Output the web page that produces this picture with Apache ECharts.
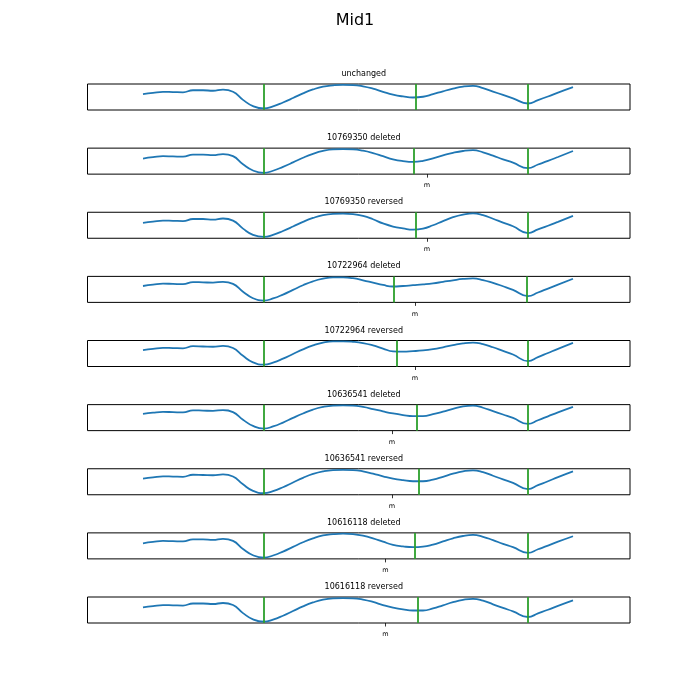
<!DOCTYPE html>
<html><head><meta charset="utf-8">
<script src="https://cdn.jsdelivr.net/npm/echarts@6/dist/echarts.min.js"></script>
<style>html,body{margin:0;padding:0;background:#fff}#c{width:700px;height:700px}</style>
</head><body><div id="c"></div>
<script>
const mainTitle = 'Mid1';
const panelTitles = ['unchanged','10769350 deleted','10769350 reversed','10722964 deleted','10722964 reversed','10636541 deleted','10636541 reversed','10616118 deleted','10616118 reversed'];
const position = [0,10,20,30,40,50,60,70,80,90,100,110,121,130,140,150,160,170,180,190,200,210,220,230,240,250,260,270,280,290,300,310,320,330,340,350,360,370,385,395,405,415,430];
const unchanged    = [61,66,70,69,68,76,76,74,78,70,39,15,6,14,29,46,64,79,90,95,97,96,91,82,70,59,52,48,51,61,72,82,90,93,84,71,58,45,25,38,52,67,88];
const del10769350  = [60,65,69,68,67,75,75,73,77,69,38,14,5,13,28,45,63,78,89,95,96,95,90,81,69,57,50,47,51,61,72,82,89,92,84,71,57,44,23,37,51,66,89];
const rev10769350  = [59,64,68,67,66,74,74,72,76,68,37,13,5,13,28,45,63,78,89,94,95,93,86,73,57,45,38,33,37,50,66,81,91,96,89,75,60,46,20,34,48,63,86];
const del10722964  = [63,68,72,71,70,78,77,76,79,71,41,16,7,15,30,48,66,81,91,96,96,93,85,76,67,61,63,66,69,73,79,85,90,92,86,75,62,48,24,38,53,68,91];
const rev10722964  = [63,68,72,71,70,78,77,76,79,71,41,16,7,15,30,48,66,81,92,97,97,95,90,81,69,58,57,59,62,67,74,82,89,92,86,74,60,46,21,36,52,68,91];
const del10636541  = [64,69,72,71,70,78,77,76,79,71,42,18,8,16,31,49,66,81,91,96,97,96,91,83,74,66,60,56,56,63,73,84,93,96,88,75,62,49,26,40,55,70,91];
const rev10636541  = [62,67,71,70,69,77,76,75,78,70,40,15,6,14,29,47,65,80,90,95,96,95,90,81,71,62,56,52,52,58,69,81,90,94,87,73,59,46,22,37,52,68,90];
const del10616118  = [60,65,69,68,67,75,75,73,77,69,38,14,5,13,28,46,64,79,90,95,97,95,89,79,66,54,48,45,47,55,67,79,88,92,85,72,58,45,23,37,51,66,87];
const rev10616118  = [60,65,69,68,67,75,75,73,77,69,38,14,5,13,28,46,64,79,90,95,96,95,90,81,69,59,52,48,48,56,68,80,89,93,86,72,58,45,23,37,51,66,87];
const panelValues = [unchanged, del10769350, rev10769350, del10722964, rev10722964, del10636541, rev10636541, del10616118, rev10616118];
const greenLine1 = [120.6,120.6,120.6,120.6,120.6,120.6,120.6,120.6,120.6];
const greenLine2 = [272.7,270.6,273.1,250.6,253.8,273.8,275.6,271.6,274.9];
const greenLine3 = [385,385,385,383.8,385,385,385,385,385];
const tickM = [null,284,284,272,272,249,249,242.4,242.4];
const xMin = -55.5, xMax = 487;

const chart = echarts.init(document.getElementById('c'), null, {renderer:'canvas'});
const grids=[], xAxes=[], yAxes=[], series=[], titles=[];
titles.push({text: mainTitle, left: 350, top: 8, textAlign: 'center',
  textStyle:{fontFamily:'DejaVu Sans', fontSize:16, fontWeight:'normal', color:'#000'}});
for (let i=0;i<9;i++){
  const top = 84 + i*64.125;
  grids.push({left:87.5, top:top, width:542.5, height:26, show:true, borderColor:'#000', borderWidth:1, backgroundColor:'transparent', containLabel:false});
  titles.push({text: panelTitles[i], left: 358.75, top: top-19, textAlign:'center',
    textStyle:{fontFamily:'DejaVu Sans', fontSize:8, fontWeight:'normal', color:'#000'}});
  const hasTick = tickM[i] !== null;
  xAxes.push({type:'value', gridIndex:i, min:xMin, max:xMax, axisLine:{show:false}, splitLine:{show:false},
    axisTick: hasTick ? {show:true, customValues:[tickM[i]], length:3.5, lineStyle:{color:'#000', width:0.8}} : {show:false},
    axisLabel: hasTick ? {show:true, customValues:[tickM[i]], formatter:()=>'m', fontSize:6.5, margin:8, color:'#000', fontFamily:'DejaVu Sans'} : {show:false}});
  yAxes.push({type:'value', gridIndex:i, min:0, max:100, show:false, splitLine:{show:false}});
  series.push({type:'line', xAxisIndex:i, yAxisIndex:i, data: position.map((p,j)=>[p, panelValues[i][j]]),
    showSymbol:false, smooth:0.5, lineStyle:{color:'#1f77b4', width:1.8}, z:3,
    markLine:{silent:true, symbol:['none','none'], label:{show:false}, animation:false,
      lineStyle:{color:'#2ca02c', width:1.8, type:'solid'},
      data:[{xAxis:greenLine1[i]},{xAxis:greenLine2[i]},{xAxis:greenLine3[i]}]}});
}
chart.setOption({animation:false, backgroundColor:'#fff', title:titles, grid:grids, xAxis:xAxes, yAxis:yAxes, series:series});
</script></body></html>
